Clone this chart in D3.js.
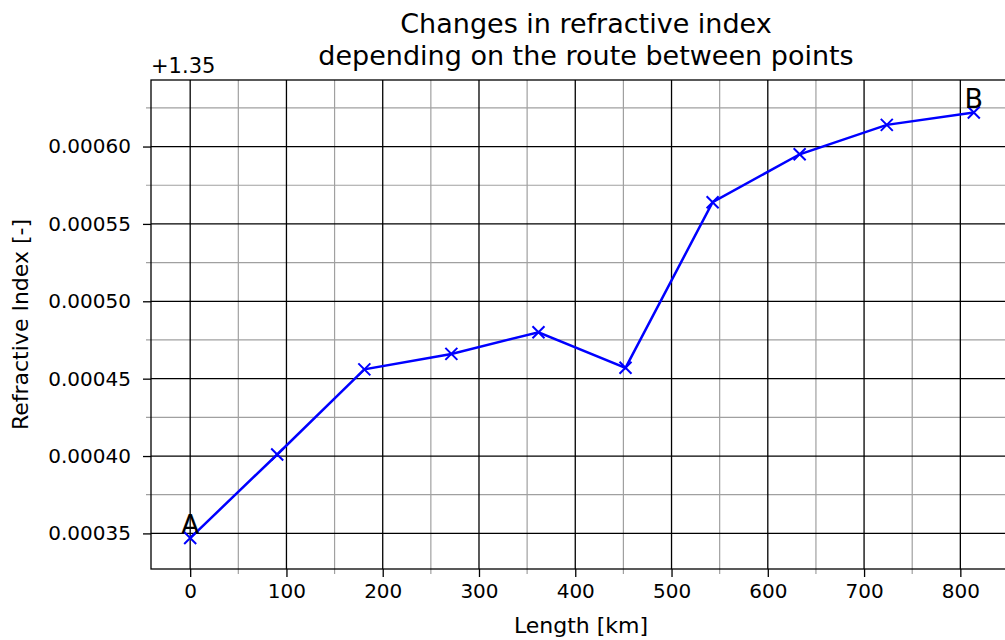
<!DOCTYPE html>
<html>
<head>
<meta charset="utf-8">
<script src="https://cdn.jsdelivr.net/npm/d3@7"></script>
<style>
  body { margin: 0; background: #fff; }
  svg { font-family: "DejaVu Sans", sans-serif; }
</style>
</head>
<body>
<script>
// route length along the path [km] and refractive index minus 1.35
var lengths = [0, 90.4, 180.9, 271.3, 361.8, 452.2, 542.7, 633.1, 723.6, 814];
var index = [0.000347, 0.000401, 0.000456, 0.000466, 0.00048, 0.000457, 0.000564, 0.000595, 0.000614, 0.000622];
var endLabels = ["A", "B"];
var xTicks = [0, 100, 200, 300, 400, 500, 600, 700, 800];
var yTicks = [0.00035, 0.0004, 0.00045, 0.0005, 0.00055, 0.0006];

var margin = {top: 80, right: -8, bottom: 71, left: 151},
    width = 1005 - margin.left - margin.right,
    height = 640 - margin.top - margin.bottom;

var x = d3.scaleLinear()
          .domain([-40.7, 854.7])
          .range([0, width]);
var y = d3.scaleLinear()
          .domain([0.000327, 0.000643])
          .range([height, 0]);

var svg = d3.select("body").append("svg")
    .attr("width", 1005)
    .attr("height", 640)
  .append("g")
    .attr("transform", "translate(" + margin.left + "," + margin.top + ")");

// title
svg.append("text")
    .attr("x", 435)
    .attr("y", -47)
    .attr("text-anchor", "middle")
    .style("font-size", "27px")
    .text("Changes in refractive index");
svg.append("text")
    .attr("x", 435)
    .attr("y", -15)
    .attr("text-anchor", "middle")
    .style("font-size", "27px")
    .text("depending on the route between points");

// minor grid
var xMinor = d3.range(50, 900, 100);
var yMinor = d3.range(0.000325, 0.00065, 0.00005);

svg.append("g").selectAll("line")
    .data(xMinor)
  .enter().append("line")
    .attr("x1", function(d) { return x(d); })
    .attr("x2", function(d) { return x(d); })
    .attr("y1", 0).attr("y2", height + 5)
    .attr("stroke", "#a0a0a0").attr("stroke-width", 1.2);
svg.append("g").selectAll("line")
    .data(yMinor.filter(function(d) { return y(d) >= 0 && y(d) <= height; }))
  .enter().append("line")
    .attr("y1", function(d) { return y(d); })
    .attr("y2", function(d) { return y(d); })
    .attr("x1", -5).attr("x2", width)
    .attr("stroke", "#a0a0a0").attr("stroke-width", 1.2);

// major grid
svg.append("g").selectAll("line")
    .data(xTicks)
  .enter().append("line")
    .attr("x1", function(d) { return x(d); })
    .attr("x2", function(d) { return x(d); })
    .attr("y1", 0).attr("y2", height)
    .attr("stroke", "#000").attr("stroke-width", 1.3);
svg.append("g").selectAll("line")
    .data(yTicks)
  .enter().append("line")
    .attr("y1", function(d) { return y(d); })
    .attr("y2", function(d) { return y(d); })
    .attr("x1", 0).attr("x2", width)
    .attr("stroke", "#000").attr("stroke-width", 1.3);

// axes
var xAxis = svg.append("g")
    .attr("transform", "translate(0," + height + ")")
    .call(d3.axisBottom(x).tickValues(xTicks).tickSize(8).tickPadding(7).tickFormat(d3.format("d")));
var yAxis = svg.append("g")
    .call(d3.axisLeft(y).tickValues(yTicks).tickSize(8).tickPadding(12).tickFormat(d3.format(".5f")));
[xAxis, yAxis].forEach(function(a) {
  a.attr("font-size", 20).attr("font-family", "DejaVu Sans");
  a.selectAll("text").attr("fill", "#000");
  a.selectAll("line").attr("stroke", "#000").attr("stroke-width", 1.3);
  a.select(".domain").remove();
});

// spines
svg.append("rect")
    .attr("x", 0).attr("y", 0)
    .attr("width", width).attr("height", height)
    .attr("fill", "none").attr("stroke", "#000").attr("stroke-width", 1.3);

// offset label
svg.append("text")
    .attr("x", 0).attr("y", -7)
    .style("font-size", "21px")
    .text("+1.35");

// axis labels
svg.append("text")
    .attr("x", 430)
    .attr("y", height + 64)
    .attr("text-anchor", "middle")
    .style("font-size", "22px")
    .text("Length [km]");
svg.append("text")
    .attr("transform", "translate(" + (-123) + "," + (height / 2) + ") rotate(-90)")
    .attr("text-anchor", "middle")
    .style("font-size", "22px")
    .text("Refractive Index [-]");

// line
var line = d3.line()
    .x(function(d, i) { return x(lengths[i]); })
    .y(function(d) { return y(d); });
svg.append("path")
    .datum(index)
    .attr("d", line)
    .attr("fill", "none")
    .attr("stroke", "#0000ff")
    .attr("stroke-width", 2.5);

// x markers
var m = 6;
svg.append("g").selectAll("path")
    .data(index)
  .enter().append("path")
    .attr("d", function(d, i) {
      var cx = x(lengths[i]), cy = y(d);
      return "M" + (cx - m) + "," + (cy - m) + "L" + (cx + m) + "," + (cy + m) +
             "M" + (cx - m) + "," + (cy + m) + "L" + (cx + m) + "," + (cy - m);
    })
    .attr("stroke", "#0000ff")
    .attr("stroke-width", 2);

// end point labels
svg.append("text")
    .attr("x", x(lengths[0]))
    .attr("y", y(index[0]) - 4)
    .attr("text-anchor", "middle")
    .style("font-size", "27px")
    .text(endLabels[0]);
svg.append("text")
    .attr("x", x(lengths[lengths.length - 1]))
    .attr("y", y(index[index.length - 1]) - 4)
    .attr("text-anchor", "middle")
    .style("font-size", "27px")
    .text(endLabels[1]);
</script>
</body>
</html>
